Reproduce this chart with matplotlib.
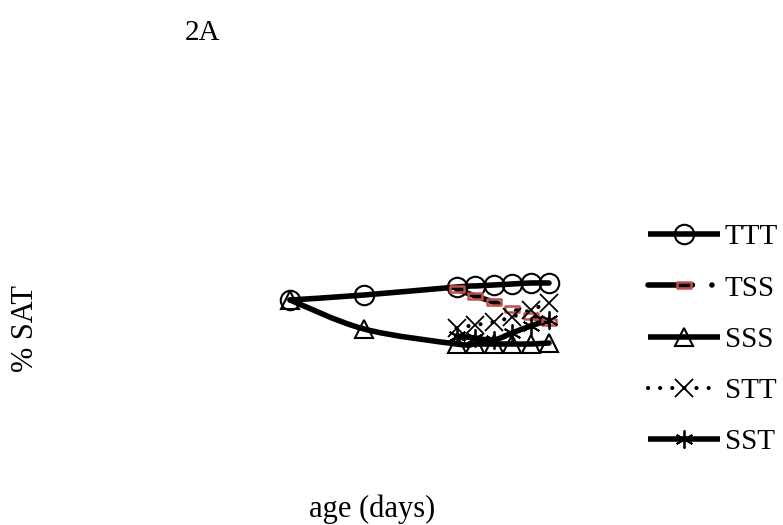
import matplotlib
matplotlib.use("Agg")
import matplotlib.pyplot as plt
import numpy as np
from matplotlib.path import Path
from matplotlib.patches import PathPatch
from matplotlib.lines import Line2D

# age (days) and % SAT (no axis scale is shown)
days = [0, 4, 9, 10, 11, 12, 13, 14]
late_days = [9, 10, 11, 12, 13, 14]

ttt = [50, 52.5, 56.5, 57, 57.5, 58, 58.5, 58.5]
sss = [50, 35.5, 28, 28, 28, 28, 28, 28.5]
tss = [55.5, 52, 49, 45.5, 42, 39]
stt = [36, 37.5, 39, 41.5, 45, 48.5]
sst = [32, 31, 30, 33.5, 37, 40]

labels = ["TTT", "TSS", "SSS", "STT", "SST"]

SERIF = "Liberation Serif"
RED = "#C0504D"

# flat rectangle marker used for TSS
rect_marker = Path([(-1, -0.4), (1, -0.4), (1, 0.4), (-1, 0.4), (-1, -0.4)],
                   [Path.MOVETO, Path.LINETO, Path.LINETO, Path.LINETO, Path.CLOSEPOLY])

#smoothed line through the points (like a spreadsheet "smoothed line")

def smooth_path(x, y):
    pts = np.column_stack([x, y]).astype(float)
    verts = [pts[0]]
    codes = [Path.MOVETO]
    n = len(pts)
    for i in range(n - 1):
        p0 = pts[max(i - 1, 0)]
        p1 = pts[i]
        p2 = pts[i + 1]
        p3 = pts[min(i + 2, n - 1)]
        verts += [p1 + (p2 - p0) / 6, p2 - (p3 - p1) / 6, p2]
        codes += [Path.CURVE4] * 3
    return Path(verts, codes)


styles = {
    "TTT": dict(color="black", lw=4, ls="-", marker="o", ms=14, mfc="none", mec="black", mew=1.5),
    "TSS": dict(color="black", lw=4, ls=(0, (8, 3.5, 0.01, 3.5)), marker=rect_marker, ms=10,
                mfc="none", mec=RED, mew=1.8),
    "SSS": dict(color="black", lw=4, ls="-", marker="^", ms=13, mfc="none", mec="black", mew=1.5),
    "STT": dict(color="black", lw=3, ls=(0, (0.01, 2.9)), marker="x", ms=13, mfc="none",
                mec="black", mew=1.3),
    "SST": dict(color="black", lw=4, ls="-", marker=(6, 2, 0), ms=13, mfc="none", mec="black",
                mew=1.3),
}

series = {
    "TTT": (days, ttt),
    "TSS": (late_days, tss),
    "SSS": (days, sss),
    "STT": (late_days, stt),
    "SST": (late_days, sst),
}

fig = plt.figure(figsize=(7.83, 5.25), dpi=100)
ax = fig.add_axes([0, 0, 1, 1])
ax.set_xlim(-15.68, 26.65)
ax.set_ylim(-62.5, 200)
ax.axis("off")

handles = []
for name in labels:
    x, y = series[name]
    st = styles[name]
    patch = PathPatch(smooth_path(x, y), fill=False, edgecolor=st["color"], lw=st["lw"],
                      ls=st["ls"], capstyle="round", joinstyle="round")
    ax.add_patch(patch)
    ax.plot(x, y, ls="none", marker=st["marker"], ms=st["ms"], mfc=st["mfc"],
            mec=st["mec"], mew=st["mew"])
    h = Line2D([], [], color=st["color"], lw=st["lw"], ls=st["ls"], marker=st["marker"],
               ms=st["ms"], mfc=st["mfc"], mec=st["mec"], mew=st["mew"],
               dash_capstyle="round", solid_capstyle="butt")
    handles.append(h)

fig.legend(handles, labels, loc="center left", bbox_to_anchor=(0.828, 0.353),
           frameon=False, borderpad=0, borderaxespad=0, handlelength=2.45,
           handletextpad=0.17, labelspacing=0.85, prop=dict(family=SERIF, size=21))

fig.text(0.258, 0.937, "2A", family=SERIF, size=21, ha="center", va="center")
fig.text(0.033, 0.375, "% SAT", family=SERIF, size=22, rotation=90, ha="center", va="center")
fig.text(0.475, 0.03, "age (days)", family=SERIF, size=22, ha="center", va="center")

fig.savefig("out.png", dpi=100)
